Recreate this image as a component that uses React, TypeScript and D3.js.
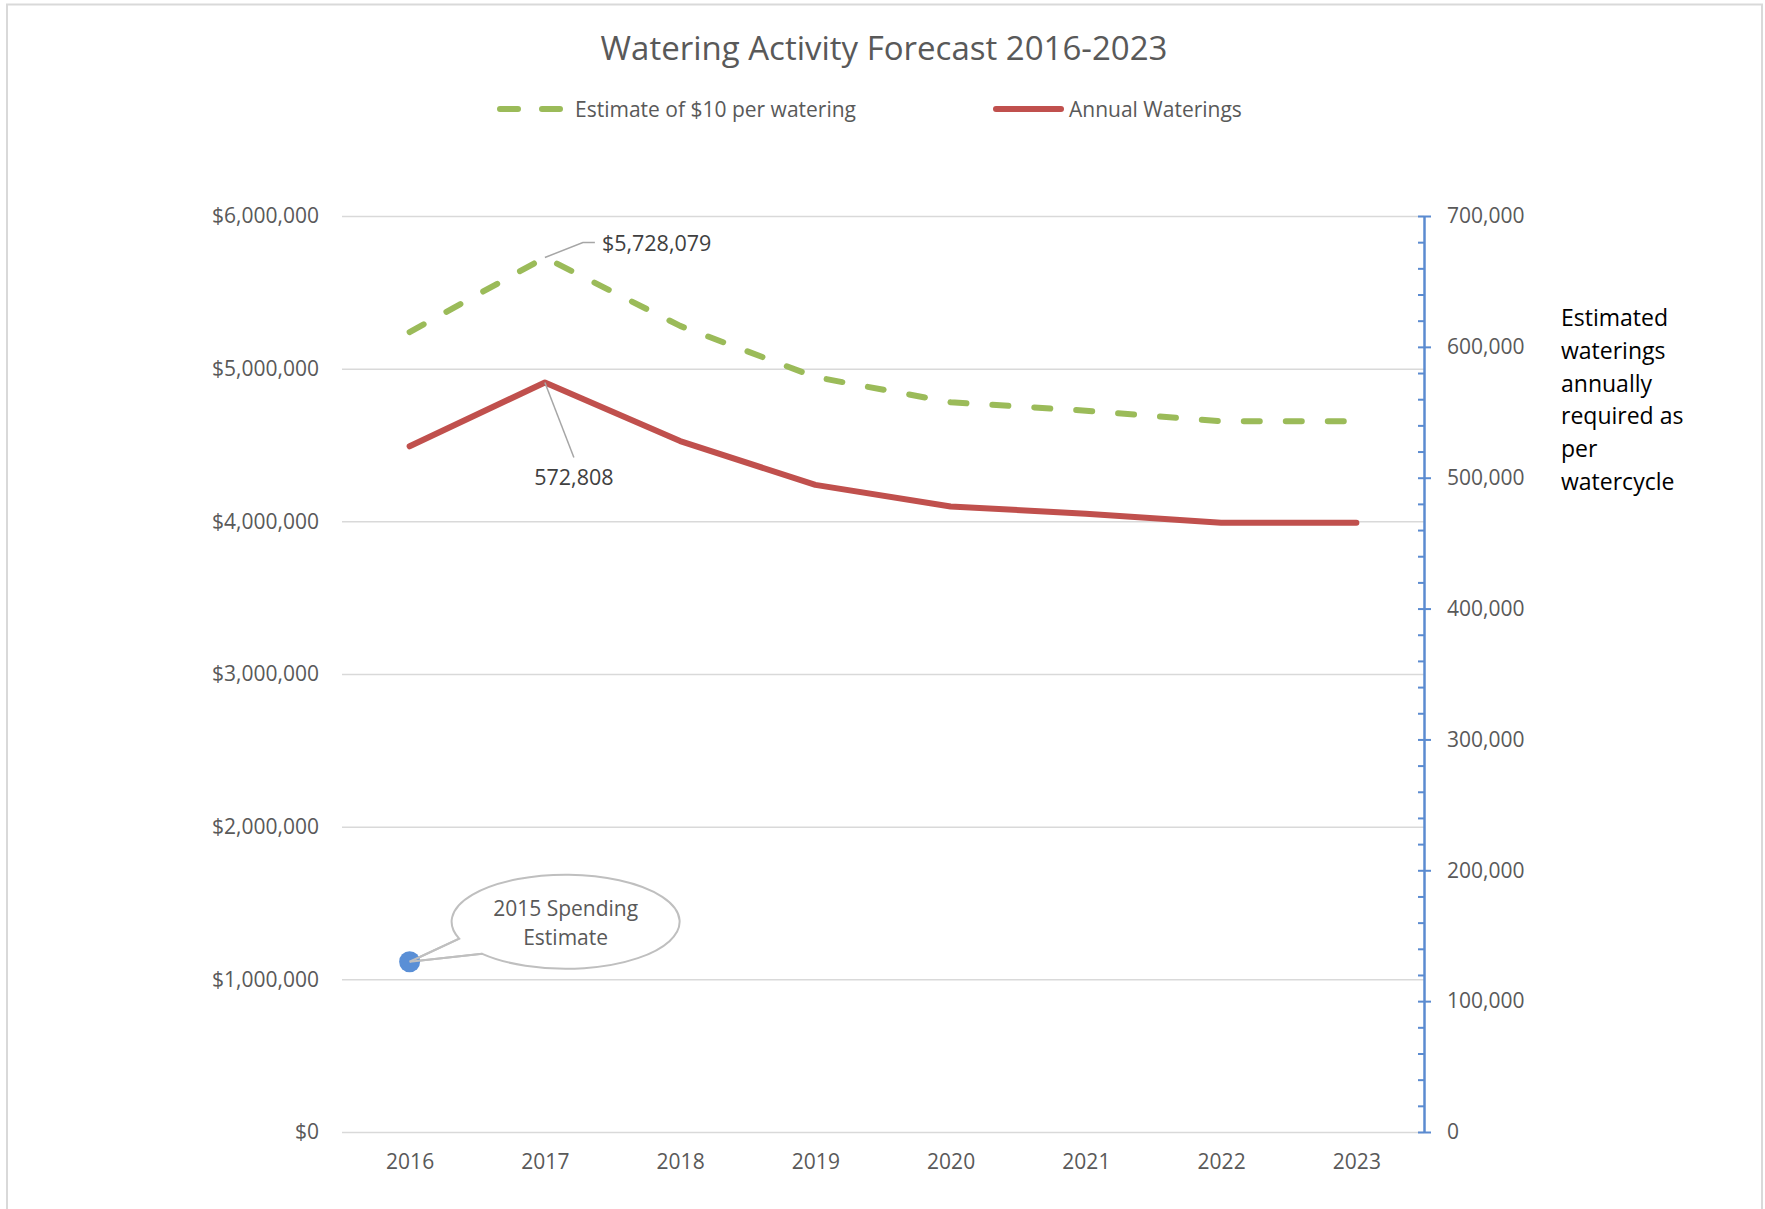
import React, { useRef, useEffect } from 'react';
import * as d3 from 'd3';

const years = ['2016', '2017', '2018', '2019', '2020', '2021', '2022', '2023'];
// Estimate of $10 per watering (left axis, dollars)
const costEstimate = [5240000, 5728079, 5280000, 4945000, 4780000, 4725000, 4655000, 4655000];
// Annual waterings (right axis, count)
const annualWaterings = [524000, 572808, 528000, 494500, 478000, 472500, 465500, 465500];
// single blue marker: 2015 spending estimate, plotted at 2016
const spending2015 = [{ year: '2016', value: 1115000 }];

const leftTicks = [0, 1000000, 2000000, 3000000, 4000000, 5000000, 6000000];
const rightMajorTicks = [0, 100000, 200000, 300000, 400000, 500000, 600000, 700000];
const sideNote = ['Estimated', 'waterings', 'annually', 'required as', 'per', 'watercycle'];

const W = 1765;
const H = 1209;
const FONT = "'Open Sans', 'Noto Sans', sans-serif";
const GREY_TEXT = '#595959';
const LABEL_SIZE = '21px';

const App: React.FC = () => {
  const svgRef = useRef<SVGSVGElement>(null);

  useEffect(() => {
    document.body.style.margin = '0';
    if (!svgRef.current) return;
    const svg = d3.select(svgRef.current);
    svg.selectAll('*').remove();

    const left = 342, right = 1424, top = 216, bottom = 1132;

    const x = d3.scalePoint<string>().domain(years).range([left, right]).padding(0.5);
    const yLeft = d3.scaleLinear().domain([0, 6000000]).range([bottom, top]);
    const yRight = d3.scaleLinear().domain([0, 700000]).range([bottom, top]);

    // outer chart border
    svg.append('rect')
      .attr('x', 7).attr('y', 4.5).attr('width', 1755).attr('height', 1230)
      .attr('fill', '#fff').attr('stroke', '#d9d9d9').attr('stroke-width', 2);

    // title
    svg.append('text')
      .attr('x', 884).attr('y', 48).attr('dy', '0.35em')
      .attr('text-anchor', 'middle')
      .style('font-family', FONT).style('font-size', '33px')
      .attr('fill', GREY_TEXT)
      .text('Watering Activity Forecast 2016-2023');

    // legend
    const legend = svg.append('g');
    legend.append('line')
      .attr('x1', 500).attr('x2', 563).attr('y1', 109).attr('y2', 109)
      .attr('stroke', '#9bbb59').attr('stroke-width', 6)
      .attr('stroke-linecap', 'round').attr('stroke-dasharray', '18 24');
    legend.append('text')
      .attr('x', 575).attr('y', 110).attr('dy', '0.35em')
      .style('font-family', FONT).style('font-size', LABEL_SIZE)
      .attr('fill', GREY_TEXT)
      .text('Estimate of $10 per watering');
    legend.append('line')
      .attr('x1', 996).attr('x2', 1061).attr('y1', 109).attr('y2', 109)
      .attr('stroke', '#c0504d').attr('stroke-width', 6)
      .attr('stroke-linecap', 'round');
    legend.append('text')
      .attr('x', 1069).attr('y', 110).attr('dy', '0.35em')
      .style('font-family', FONT).style('font-size', LABEL_SIZE)
      .attr('fill', GREY_TEXT)
      .text('Annual Waterings');

    // gridlines
    const grid = svg.append('g')
      .attr('transform', `translate(${left},0)`)
      .call(d3.axisLeft(yLeft).tickValues(leftTicks).tickSize(-(right - left)).tickFormat(() => ''));
    grid.select('.domain').remove();
    grid.selectAll('line').attr('stroke', '#d9d9d9').attr('stroke-width', 1.5);

    // left axis labels
    const leftAxis = svg.append('g')
      .attr('transform', `translate(${left},0)`)
      .call(d3.axisLeft(yLeft).tickValues(leftTicks).tickSize(0).tickPadding(23)
        .tickFormat(d => d3.format('$,.0f')(d as number)));
    leftAxis.select('.domain').remove();
    leftAxis.selectAll('text')
      .style('font-family', FONT).style('font-size', LABEL_SIZE).attr('fill', GREY_TEXT);

    // x axis labels
    const xAxis = svg.append('g')
      .attr('transform', `translate(0,${bottom})`)
      .call(d3.axisBottom(x).tickSize(0));
    xAxis.select('.domain').remove();
    xAxis.selectAll('text')
      .attr('y', 30).attr('dy', '0.35em')
      .style('font-family', FONT).style('font-size', LABEL_SIZE).attr('fill', GREY_TEXT);

    // right axis: minor ticks (inside), major ticks crossing, labels
    const AXIS_BLUE = '#5b8bd0';
    const minorTicks = d3.range(0, 700001, 20000).filter(v => v % 100000 !== 0);
    const minor = svg.append('g')
      .attr('transform', `translate(${right},0)`)
      .call(d3.axisLeft(yRight).tickValues(minorTicks).tickSize(6).tickFormat(() => ''));
    minor.select('.domain').remove();
    minor.selectAll('line').attr('stroke', AXIS_BLUE).attr('stroke-width', 2);

    const rightAxis = svg.append('g')
      .attr('transform', `translate(${right},0)`)
      .call(d3.axisRight(yRight).tickValues(rightMajorTicks).tickSizeInner(7).tickSizeOuter(0)
        .tickPadding(16).tickFormat(d => d3.format(',')(d as number)));
    rightAxis.select('.domain').attr('stroke', AXIS_BLUE).attr('stroke-width', 2.5);
    rightAxis.selectAll('.tick line').attr('x1', -6).attr('stroke', AXIS_BLUE).attr('stroke-width', 2);
    rightAxis.selectAll('text')
      .style('font-family', FONT).style('font-size', LABEL_SIZE).attr('fill', GREY_TEXT);

    // side note
    const note = svg.append('text')
      .style('font-family', FONT).style('font-size', '23px').attr('fill', '#000');
    sideNote.forEach((s, i) => {
      note.append('tspan').attr('x', 1561).attr('y', 318 + i * 32.8).attr('dy', '0.35em').text(s);
    });

    // series
    const costLine = d3.line<number>()
      .x((_, i) => x(years[i])!)
      .y(d => yLeft(d));
    const wateringLine = d3.line<number>()
      .x((_, i) => x(years[i])!)
      .y(d => yRight(d));

    svg.append('path')
      .datum(annualWaterings)
      .attr('d', wateringLine)
      .attr('fill', 'none').attr('stroke', '#c0504d').attr('stroke-width', 6)
      .attr('stroke-linejoin', 'round').attr('stroke-linecap', 'round');

    svg.append('path')
      .datum(costEstimate)
      .attr('d', costLine)
      .attr('fill', 'none').attr('stroke', '#9bbb59').attr('stroke-width', 6)
      .attr('stroke-linejoin', 'round').attr('stroke-linecap', 'round')
      .attr('stroke-dasharray', '16 26');

    // data label for cost peak
    const px = x('2017')!;
    const pyCost = yLeft(costEstimate[1]);
    svg.append('path')
      .attr('d', `M${px},${pyCost} L${px + 38},${pyCost - 15} L${px + 50},${pyCost - 15}`)
      .attr('fill', 'none').attr('stroke', '#a6a6a6').attr('stroke-width', 1.5);
    svg.append('text')
      .attr('x', px + 57).attr('y', pyCost - 14).attr('dy', '0.35em')
      .style('font-family', FONT).style('font-size', '21.5px').attr('fill', '#404040')
      .text(d3.format('$,')(costEstimate[1]));

    // data label for waterings peak
    const pyW = yRight(annualWaterings[1]);
    svg.append('line')
      .attr('x1', px).attr('y1', pyW).attr('x2', px + 29).attr('y2', pyW + 75)
      .attr('stroke', '#a6a6a6').attr('stroke-width', 1.5);
    svg.append('text')
      .attr('x', px + 29).attr('y', pyW + 95).attr('dy', '0.35em')
      .attr('text-anchor', 'middle')
      .style('font-family', FONT).style('font-size', '21.5px').attr('fill', '#404040')
      .text(d3.format(',')(annualWaterings[1]));

    // 2015 spending marker + callout
    spending2015.forEach(p => {
      const cx = x(p.year)!;
      const cy = yLeft(p.value);
      const ex = cx + 156, ey = cy - 40, rx = 114, ry = 47;
      const a1 = (159 * Math.PI) / 180;
      const a2 = (137 * Math.PI) / 180;
      const p1 = [ex + rx * Math.cos(a1), ey + ry * Math.sin(a1)];
      const p2 = [ex + rx * Math.cos(a2), ey + ry * Math.sin(a2)];
      svg.append('path')
        .attr('d', `M${p1[0]},${p1[1]} A${rx},${ry} 0 1 1 ${p2[0]},${p2[1]} L${cx},${cy} Z`)
        .attr('fill', '#fff').attr('stroke', '#bfbfbf').attr('stroke-width', 2);
      svg.append('circle')
        .attr('cx', cx).attr('cy', cy).attr('r', 10.5)
        .attr('fill', '#5a8fd6');
      svg.append('line')
        .attr('x1', cx).attr('y1', cy).attr('x2', p1[0]).attr('y2', p1[1])
        .attr('stroke', '#bfbfbf').attr('stroke-width', 2);
      svg.append('line')
        .attr('x1', cx).attr('y1', cy).attr('x2', p2[0]).attr('y2', p2[1])
        .attr('stroke', '#bfbfbf').attr('stroke-width', 2);
      const t = svg.append('text')
        .attr('text-anchor', 'middle')
        .style('font-family', FONT).style('font-size', LABEL_SIZE).attr('fill', GREY_TEXT);
      t.append('tspan').attr('x', ex).attr('y', ey - 13).attr('dy', '0.35em').text('2015 Spending');
      t.append('tspan').attr('x', ex).attr('y', ey + 16).attr('dy', '0.35em').text('Estimate');
    });
  }, []);

  return (
    <svg ref={svgRef} width={W} height={H} style={{ display: 'block', background: '#fff' }} />
  );
};

export default App;
